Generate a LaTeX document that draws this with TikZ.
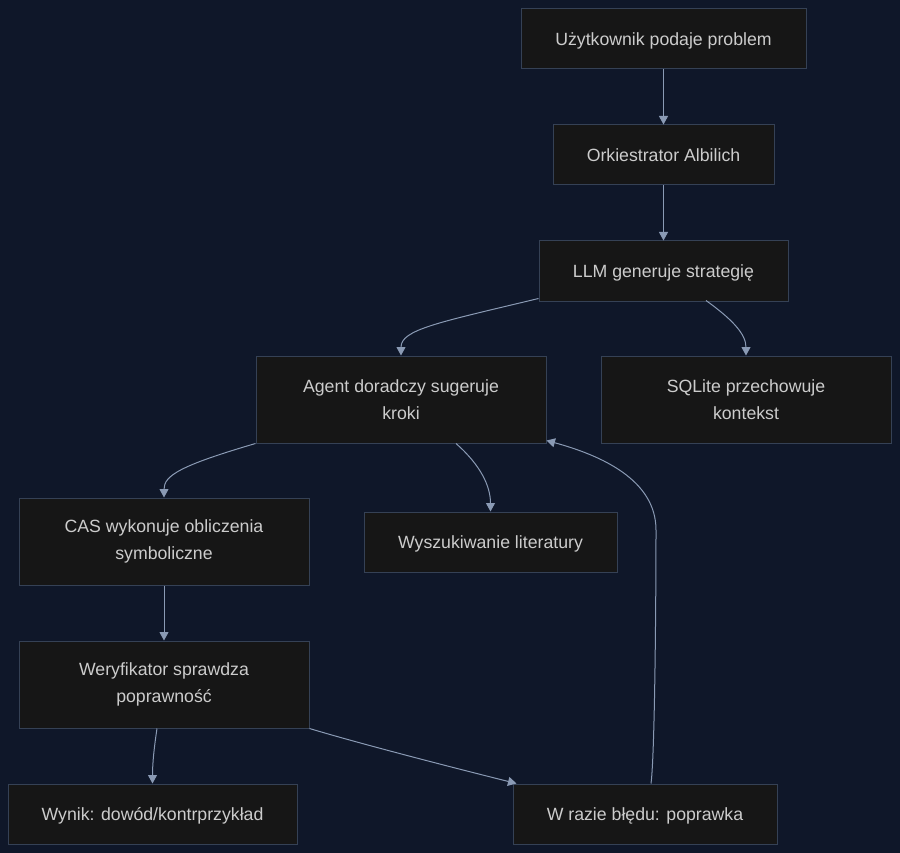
\documentclass[tikz,border=0pt]{standalone}
\usepackage{fontspec}
\setmainfont{Liberation Sans}
\usetikzlibrary{
    arrows.meta,
    positioning,
    calc
}
\definecolor{bgnavy}{HTML}{0F1729}
\definecolor{boxfill}{HTML}{161616}
\definecolor{boxline}{HTML}{354155}
\definecolor{boxtext}{HTML}{CCCCCC}
\definecolor{edgecol}{HTML}{8A9AB4}
\tikzset{
    % Colors
    background color/.style={bgnavy},
    edge color/.style={edgecol},
    %
    % Boxes
    tall box/.style={draw=boxline,fill=boxfill,line width=1pt,text=boxtext,
        inner sep=0pt,align=center,minimum height=87pt},
    box/.style={tall box,minimum height=60pt,text height=16.5pt,text depth=3.3pt},
    %
    % Arrows
    arrow tip/.tip={Triangle[length=8.5pt,width=9pt]},
    arr/.style={->,>={arrow tip},edge color,line width=1pt}
}
\tikzstyle{every node}=[font=\fontsize{17.7}{27}\selectfont]

\begin{document}
\begin{tikzpicture}[x=1pt,y=1pt]
        \fill[background color] (0,0) rectangle (900,-853);
        \useasboundingbox (0,0) rectangle (900,-853);
        % top column
        \node[box,minimum width=285pt] (user) at (663.5,-39) {Użytkownik podaje problem};
        \node[box,minimum width=221pt] (orch) at (663.5,-155) {Orkiestrator Albilich};
        \node[box,minimum width=249pt] (llm) at (663.5,-271) {LLM generuje strategię};
        \node[tall box,minimum width=290pt] (agent) at (401,-399.5) {Agent doradczy sugeruje\\kroki};
        \node[tall box,minimum width=290pt] (sqlite) at (746,-399.5) {SQLite przechowuje\\kontekst};
        \node[tall box,minimum width=290pt] (cas) at (164,-541.5) {CAS wykonuje obliczenia\\symboliczne};
        \node[box,minimum width=253pt] (lit) at (490.5,-542) {Wyszukiwanie literatury};
        \node[tall box,minimum width=290pt] (verif) at (164,-684.5) {Weryfikator sprawdza\\poprawność};
        \node[box,minimum width=289pt] (result) at (152.5,-814) {Wynik: dowód/kontrprzykład};
        \node[box,minimum width=264pt] (fix) at (645,-814) {W razie błędu: poprawka};
        \coordinate (loop bend) at (656,-530);
        % connectors
        \draw[arr] (user) -- (orch);
        \draw[arr] (orch) -- (llm);
        \draw[arr] ([yshift=3pt]llm.south west) .. controls +(-100,-24) and +(0,26) .. (agent.north);
        \draw[arr] ([xshift=42.5pt,yshift=1pt]llm.south) .. controls +(25,-18) and +(0,22) .. (sqlite.north);
        \draw[arr] (agent.south west) .. controls +(-75,-22) and +(0,22) .. (cas.north);
        \draw[arr] ([xshift=55pt]agent.south) .. controls +(25,-22) and +(0,25) .. (lit.north);
        \draw[arr] (cas) -- (verif);
        \draw[arr] ([xshift=-7pt]verif.south) .. controls +(-3,-20) and +(0,20) .. (result.north);
        \draw[arr] (verif.south east) .. controls +(60,-18) and +(-40,10) .. ([xshift=4pt]fix.north west);
        \draw[arr] ([xshift=6pt]fix.north) .. controls +(4,30) and +(0,-60) .. (loop bend)
            .. controls +(0,50) and +(55,-15) .. ([yshift=3pt]agent.south east);
    \end{tikzpicture}
\end{document}
